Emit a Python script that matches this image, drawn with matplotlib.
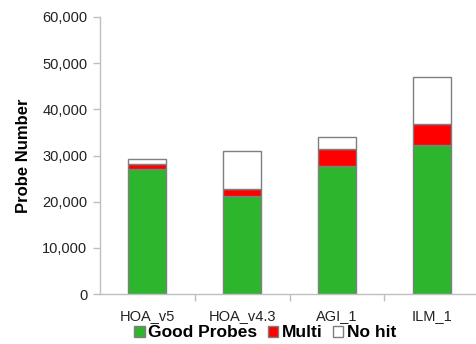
import numpy as np
import matplotlib.pyplot as plt
from matplotlib.ticker import FuncFormatter

plt.rcParams['font.family'] = ['Liberation Sans', 'DejaVu Sans']

plataformas = ['HOA_v5', 'HOA_v4.3', 'AGI_1', 'ILM_1']
good = [27000, 21300, 27800, 32300]
multi = [1200, 1500, 3600, 4500]
nohit = [1000, 8200, 2700, 10300]

fig = plt.figure(figsize=(4.77, 3.44), dpi=100)
ax = fig.add_axes([0.2096, 0.1453, 0.795, 0.8053])

x = np.arange(len(plataformas))
borde = '#7f7f7f'
ancho = 0.4
b1 = ax.bar(x, good, ancho, color='#2db52d', edgecolor=borde, linewidth=1, label='Good Probes')
b2 = ax.bar(x, multi, ancho, bottom=good, color='#ff0000', edgecolor=borde, linewidth=1, label='Multi')
base = np.array(good) + np.array(multi)
b3 = ax.bar(x, nohit, ancho, bottom=base, color='white', edgecolor=borde, linewidth=1, label='No hit')

ax.set_xlim(-0.5, 3.5)
ax.set_ylim(0, 60000)
ax.set_yticks(range(0, 60001, 10000))
ax.yaxis.set_major_formatter(FuncFormatter(lambda v, p: '{:,.0f}'.format(v)))
ax.tick_params(axis='y', labelsize=10.5, colors='#bfbfbf', labelcolor='#222222', length=5, width=1, pad=4)

# ticks del eje x entre categorias, etiquetas centradas
ax.set_xticks([0.5, 1.5, 2.5])
ax.set_xticklabels([])
ax.set_xticks(x, minor=True)
ax.set_xticklabels(plataformas, minor=True)
ax.tick_params(axis='x', which='major', length=5, width=1, colors='#bfbfbf')
ax.tick_params(axis='x', which='minor', length=0, labelsize=10.5, labelcolor='#222222', pad=11)

for s in ['top', 'right']:
    ax.spines[s].set_visible(False)
for s in ['left', 'bottom']:
    ax.spines[s].set_color('#bfbfbf')
    ax.spines[s].set_linewidth(1)

ax.set_ylabel('Probe Number', fontsize=12, fontweight='bold', labelpad=8)

fig.legend(handles=[b1, b2, b3], loc='lower center', bbox_to_anchor=(0.556, -0.035), ncol=3,
           frameon=False, prop={'weight': 'bold', 'size': 12.5}, handlelength=0.6,
           handleheight=0.6, handletextpad=0.2, columnspacing=0.6)

plt.savefig('out.png', dpi=100)
